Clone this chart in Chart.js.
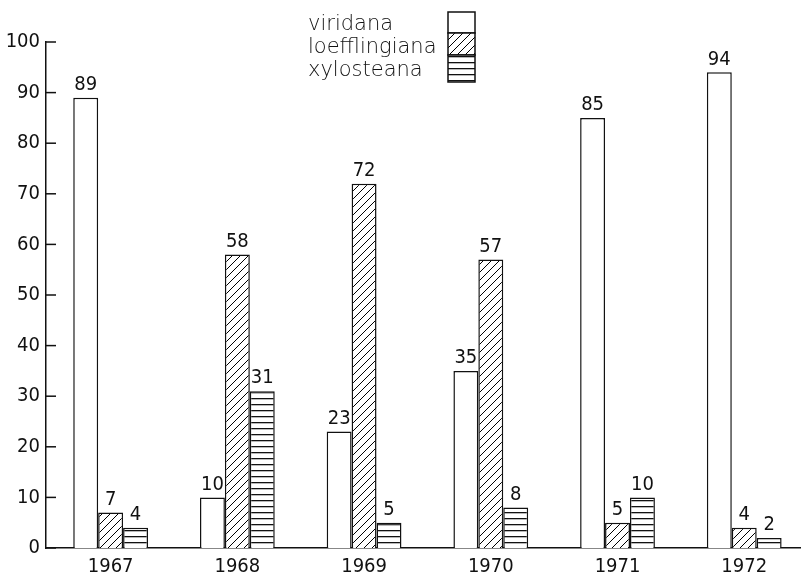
<!DOCTYPE html>
<html>
<head>
<meta charset="utf-8">
<script src="https://cdn.jsdelivr.net/npm/chart.js@4.4.1/dist/chart.umd.min.js"></script>
<style>
  html, body { margin: 0; padding: 0; background: #fff; }
  #wrap { width: 803px; height: 579px; }
</style>
</head>
<body>
<div id="wrap"><canvas id="myChart"></canvas></div>
<script>
// data
const years = [1967, 1968, 1969, 1970, 1971, 1972];
const viridana = [89, 10, 23, 35, 85, 94];
const loefflingiana = [7, 58, 72, 57, 5, 4];
const xylosteana = [4, 31, 5, 8, 10, 2];
const seriesNames = ['viridana', 'loefflingiana', 'xylosteana'];
const yTicks = [0, 10, 20, 30, 40, 50, 60, 70, 80, 90, 100];

const NUM_FONT = "'DejaVu Sans Condensed', 'DejaVu Sans', sans-serif";
const TXT_FONT = "'DejaVu Sans', sans-serif";
const INK = '#111';

// fill patterns
function makePattern(kind) {
  const c = document.createElement('canvas');
  const g = c.getContext('2d');
  g.strokeStyle = INK;
  if (kind === 'white') return '#fff';
  if (kind === 'hatch') {
    c.width = 8; c.height = 8;
    g.fillStyle = '#fff'; g.fillRect(0, 0, 8, 8);
    g.lineWidth = 1;
    g.beginPath();
    g.moveTo(-1, 9); g.lineTo(9, -1);
    g.moveTo(-1, 1); g.lineTo(1, -1);
    g.moveTo(7, 9); g.lineTo(9, 7);
    g.stroke();
  } else {
    c.width = 6; c.height = 6;
    g.fillStyle = '#fff'; g.fillRect(0, 0, 6, 6);
    g.fillStyle = INK; g.fillRect(0, 2, 6, 1.3);
  }
  return g.createPattern(c, 'repeat');
}
const fills = [makePattern('white'), makePattern('hatch'), makePattern('lines')];

const toPoints = arr => arr.map((v, i) => ({ x: years[i], y: v }));

// value labels over the bars
const valueLabels = {
  id: 'valueLabels',
  afterDatasetsDraw(chart) {
    const c = chart.ctx;
    c.save();
    c.font = '200 20px ' + NUM_FONT;
    c.fillStyle = INK;
    c.textAlign = 'center';
    c.textBaseline = 'bottom';
    chart.data.datasets.forEach((ds, di) => {
      chart.getDatasetMeta(di).data.forEach((bar, i) => {
        c.fillText(String(ds.data[i].y), bar.x, bar.y - 3);
      });
    });
    c.restore();
  }
};

// y tick marks pointing into the plot
const innerTicks = {
  id: 'innerTicks',
  afterDraw(chart) {
    const y = chart.scales.y;
    const c = chart.ctx;
    c.save();
    c.strokeStyle = INK;
    c.lineWidth = 1.5;
    yTicks.forEach(t => {
      const py = y.getPixelForValue(t);
      c.beginPath();
      c.moveTo(y.right, py);
      c.lineTo(y.right + 10, py);
      c.stroke();
    });
    c.restore();
  }
};

// stacked-box legend top centre
const boxLegend = {
  id: 'boxLegend',
  afterDraw(chart) {
    const c = chart.ctx;
    const tx = 308, bx = 448, bw = 27;
    const tops = [12, 33, 55, 82];
    const baselines = [30, 53, 76];
    c.save();
    c.font = '200 21px ' + TXT_FONT;
    c.textAlign = 'left';
    c.textBaseline = 'alphabetic';
    seriesNames.forEach((name, i) => {
      c.fillStyle = INK;
      c.fillText(name, tx, baselines[i]);
      c.fillStyle = fills[i];
      c.fillRect(bx, tops[i], bw, tops[i + 1] - tops[i]);
      c.strokeStyle = INK;
      c.lineWidth = 1.5;
      c.strokeRect(bx, tops[i], bw, tops[i + 1] - tops[i]);
    });
    c.restore();
  }
};

const ctx = document.getElementById('myChart').getContext('2d');
const config = {
  type: 'bar',
  data: {
    datasets: [viridana, loefflingiana, xylosteana].map((arr, i) => ({
      label: seriesNames[i],
      data: toPoints(arr),
      backgroundColor: fills[i],
      borderColor: INK,
      borderWidth: 1.5,
      borderSkipped: 'bottom',
      categoryPercentage: 0.59,
      barPercentage: 1,
    })),
  },
  options: {
    responsive: true,
    maintainAspectRatio: false,
    animation: false,
    devicePixelRatio: 1,
    layout: { padding: { top: 42, right: 3, left: 0, bottom: 0 } },
    plugins: {
      legend: { display: false },
      tooltip: { enabled: false },
    },
    scales: {
      x: {
        type: 'linear',
        offset: false,
        min: 1966.49,
        max: 1972.44,
        grid: { display: false, drawTicks: false, offset: false },
        border: { display: true, color: INK, width: 1.5 },
        ticks: {
          stepSize: 1,
          includeBounds: false,
          padding: 7,
          color: INK,
          font: { family: NUM_FONT, size: 20, weight: 200 },
          callback: v => (years.includes(v) ? String(v) : ''),
        },
        afterFit: s => { s.height = 31; },
      },
      y: {
        min: 0,
        max: 100,
        grid: { display: false, drawTicks: false },
        border: { display: true, color: INK, width: 1.5 },
        ticks: {
          stepSize: 10,
          padding: 6,
          color: INK,
          font: { family: NUM_FONT, size: 20, weight: 200 },
        },
        afterFit: s => { s.width = 46; },
      },
    },
  },
  plugins: [valueLabels, innerTicks, boxLegend],
};
const myChart = new Chart(ctx, config);
</script>
</body>
</html>
